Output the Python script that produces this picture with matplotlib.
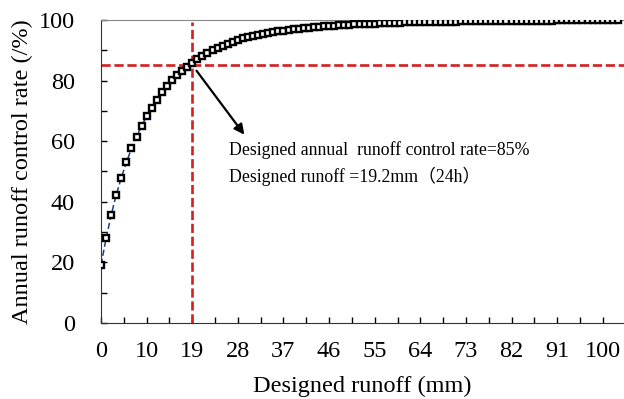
import matplotlib.pyplot as plt
from matplotlib.ticker import FixedLocator

plt.rcParams['font.family'] = ['Liberation Serif', 'Noto Sans CJK SC']

# annual runoff control rate (%) for each category on the x axis
rate = [19.2, 28.0, 35.7, 42.3, 48.0, 53.0, 57.6, 61.5, 65.0, 68.3,
        71.1, 73.7, 76.1, 78.2, 80.1, 81.8, 83.3, 84.5, 85.8, 87.0,
        88.1, 89.1, 90.0, 90.8, 91.5, 92.2, 92.8, 93.4, 93.9, 94.3,
        94.7, 95.1, 95.4, 95.7, 96.0, 96.2, 96.5, 96.7, 96.9, 97.1,
        97.3, 97.5, 97.6, 97.8, 97.9, 98.0, 98.1, 98.2, 98.3, 98.4,
        98.5, 98.6, 98.7, 98.8, 98.8, 98.9, 99.0, 99.0, 99.1, 99.1,
        99.2, 99.2, 99.2, 99.3, 99.3, 99.3, 99.3, 99.4, 99.4, 99.4,
        99.4, 99.5, 99.6, 99.6, 99.6, 99.6, 99.7, 99.7, 99.7, 99.7,
        99.7, 99.7, 99.8, 99.8, 99.8, 99.8, 99.8, 99.8, 99.8, 99.8,
        99.9, 99.9, 99.9, 99.9, 99.9, 99.9, 99.9, 99.9, 99.9, 99.9,
        99.9, 99.9, 99.9]
tick_labels = ['0', '10', '19', '28', '37', '46', '55', '64', '73', '82', '91', '100']
design_idx = 18      # category of the 19 mm label
design_rate = 85

fig = plt.figure(figsize=(6.24, 3.99), dpi=100)
ax = fig.add_axes([0.162, 0.1905, 0.838, 0.7595])

x = list(range(len(rate)))
ax.plot(x, rate, color='#1f3d7a', lw=1.1, dashes=(4, 2), marker='s', ms=4.3,
        mfc='white', mec='black', mew=1.7, zorder=3)

red = '#d42020'
ax.plot([design_idx, design_idx], [0, 99.4], color=red, lw=1.9, dashes=(3.5, 1.4), zorder=2)
ax.plot([0, 103.5], [design_rate, design_rate], color=red, lw=1.9, dashes=(3.5, 1.4), zorder=2)

ax.annotate('', xy=(28.6, 61.4), xytext=(18.5, 84.0),
            arrowprops=dict(arrowstyle='-|>', color='black', lw=1.6, mutation_scale=15))
ax.text(25.2, 56.9, 'Designed annual  runoff control rate=85%', fontsize=12.8, va='center')
ax.text(25.2, 48.3, 'Designed runoff =19.2mm（24h）', fontsize=12.8, va='center')

ax.set_xlim(0, 103.2)
ax.set_ylim(0, 100)
ax.xaxis.set_major_locator(FixedLocator([i * 9 for i in range(len(tick_labels))]))
ax.set_xticklabels(tick_labels)
ax.xaxis.set_minor_locator(FixedLocator([4.5 + i * 9 for i in range(12)]))
ax.set_yticks(range(0, 101, 20))
ax.set_yticks(range(10, 100, 20), minor=True)
ax.tick_params(which='both', direction='in', length=4, width=1, labelsize=17.5)
ax.tick_params(axis='x', pad=13)
ax.tick_params(axis='y', pad=19)
ax.spines['right'].set_visible(False)
for s in ['left', 'bottom']:
    ax.spines[s].set_color('#333333')
ax.spines['top'].set_color('#888888')

ax.set_xlabel('Designed runoff (mm)', fontsize=17.5, labelpad=10)
ax.set_ylabel('Annual runoff control rate (/%)', fontsize=17.5, labelpad=4)

fig.savefig('out.png', dpi=100)
